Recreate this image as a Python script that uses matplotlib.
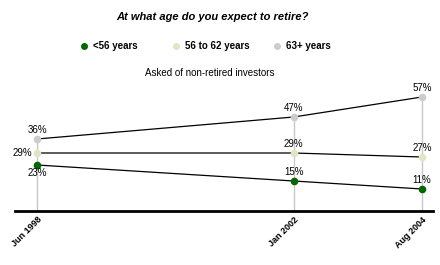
import matplotlib.pyplot as plt
from matplotlib.lines import Line2D

plt.rcParams['font.family'] = ['Liberation Sans', 'DejaVu Sans']

# data
dates = ['Jun 1998', 'Jan 2002', 'Aug 2004']
date_pos = [0, 2, 3]  # uneven spacing as in the original
under_56 = [23, 15, 11]
from_56_to_62 = [29, 29, 27]
over_63 = [36, 47, 57]
series_names = ['<56 years', '56 to 62 years', '63+ years']

green = '#006600'
beige = '#e3e3c6'
grey = '#cccccc'
colors = [green, beige, grey]

fig = plt.figure(figsize=(4.4, 2.65), dpi=100)
ax = fig.add_axes([15 / 440, 54 / 265, 418 / 440, 121 / 265])
ax.set_xlim(-22 / 128.33, 3 + 11 / 128.33)
ax.set_ylim(0, 60.5)

# grey drop lines from the top point to the baseline
for x, top in zip(date_pos, over_63):
    ax.plot([x, x], [0, top], color='#c8c8c8', lw=1, zorder=1)

for vals, c in zip([under_56, from_56_to_62, over_63], colors):
    ax.plot(date_pos, vals, color='black', lw=0.9, zorder=2)
    ax.scatter(date_pos, vals, s=30, color=c, zorder=3, linewidths=0)

# value labels
fs = 7
for i, x in enumerate(date_pos):
    ax.annotate(f'{over_63[i]}%', (x, over_63[i]), xytext=(0, 4),
                textcoords='offset pixels', ha='center', va='bottom', fontsize=fs)
    if i == 0:
        ax.annotate(f'{from_56_to_62[i]}%', (x, from_56_to_62[i]), xytext=(-5, 0),
                    textcoords='offset pixels', ha='right', va='center', fontsize=fs)
        ax.annotate(f'{under_56[i]}%', (x, under_56[i]), xytext=(0, -3),
                    textcoords='offset pixels', ha='center', va='top', fontsize=fs)
    else:
        ax.annotate(f'{from_56_to_62[i]}%', (x, from_56_to_62[i]), xytext=(0, 4),
                    textcoords='offset pixels', ha='center', va='bottom', fontsize=fs)
        ax.annotate(f'{under_56[i]}%', (x, under_56[i]), xytext=(0, 4),
                    textcoords='offset pixels', ha='center', va='bottom', fontsize=fs)

for s in ['top', 'right', 'left']:
    ax.spines[s].set_visible(False)
ax.spines['bottom'].set_linewidth(2)
ax.set_yticks([])
ax.set_xticks(date_pos)
ax.set_xticklabels(dates, rotation=45, ha='right', va='top', fontsize=6.5,
                   fontweight='bold', rotation_mode='anchor')
ax.tick_params(axis='x', length=0, pad=3)

# title, legend and subtitle
fig.text(0.482, 1 - 17 / 265, 'At what age do you expect to retire?', ha='center',
         va='center', fontsize=8, fontweight='bold', fontstyle='italic')
leg_x = [84, 176, 277]
for x, name, c in zip(leg_x, series_names, colors):
    fig.add_artist(Line2D([x / 440], [1 - 46 / 265], marker='o', markersize=4,
                          color=c, linestyle='none', transform=fig.transFigure))
    fig.text((x + 9) / 440, 1 - 46 / 265, name, ha='left', va='center',
             fontsize=7, fontweight='bold')
fig.text(210 / 440, 1 - 73 / 265, 'Asked of non-retired investors', ha='center',
         va='center', fontsize=7)

fig.savefig('out.png', dpi=100)
